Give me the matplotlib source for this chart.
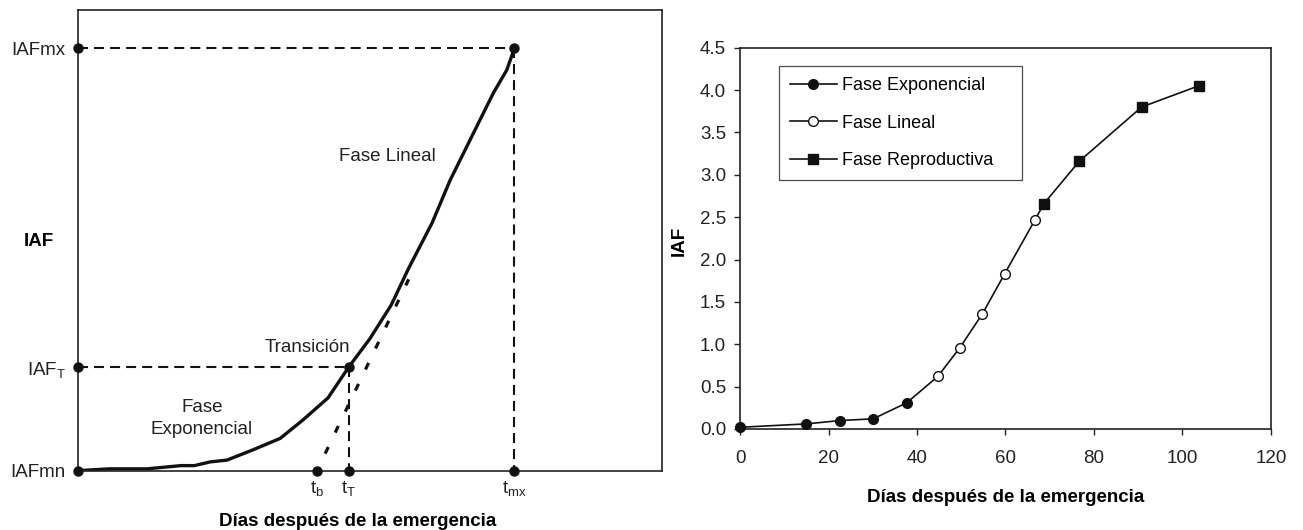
import matplotlib
matplotlib.use("Agg")
import matplotlib.pyplot as plt
from matplotlib.lines import Line2D

plt.rcParams['font.family'] = ['Liberation Sans', 'DejaVu Sans']
plt.rcParams['mathtext.fontset'] = 'custom'
plt.rcParams['mathtext.rm'] = 'Liberation Sans'
plt.rcParams['mathtext.it'] = 'Liberation Sans'

# left panel: schematic curve (arbitrary units)
curve_x = [0, 5.3, 11.8, 17.6, 19.9, 22.6, 25.5, 29.9, 34.6, 38.5, 42.8, 46.3,
           50.0, 53.6, 56.6, 60.6, 63.7, 67.1, 71.1, 73.4, 74.7]
curve_y = [0, 0.4, 0.4, 1.1, 1.1, 1.9, 2.3, 4.5, 7.0, 11.0, 15.8, 22.4,
           28.7, 35.9, 43.9, 53.7, 63.0, 71.7, 81.9, 86.9, 91.6]
tangent_x = [42.3, 56.6]
tangent_y = [3.7, 41.5]
t_b, t_T, t_mx = 40.9, 46.3, 74.7
iaf_mn, iaf_T, iaf_mx = 0.0, 22.4, 91.6

# right panel: measured IAF
exp_dias = [0, 15, 22.7, 30.1, 37.7]
exp_iaf = [0.02, 0.06, 0.10, 0.12, 0.31]
lin_dias = [44.7, 49.7, 54.8, 59.8, 66.7]
lin_iaf = [0.62, 0.96, 1.36, 1.83, 2.47]
rep_dias = [68.7, 76.7, 90.8, 103.7]
rep_iaf = [2.66, 3.16, 3.80, 4.05]

fig = plt.figure(figsize=(13.03, 5.30), dpi=100)

# ---------- left panel ----------
ax1 = fig.add_axes([0.0599, 0.1119, 0.4483, 0.8701])
ax1.set_xlim(0, 100)
ax1.set_ylim(0, 100)
for s in ax1.spines.values():
    s.set_linewidth(1.2)
    s.set_color('#222222')

dash = (4.8, 2.9)
ax1.plot([0, t_mx], [iaf_mx, iaf_mx], color='#111111', lw=1.5, dashes=dash)
ax1.plot([t_mx, t_mx], [iaf_mx, 0], color='#111111', lw=1.5, dashes=dash)
ax1.plot([0, t_T], [iaf_T, iaf_T], color='#111111', lw=1.5, dashes=dash)
ax1.plot([t_T, t_T], [iaf_T, 0], color='#111111', lw=1.5, dashes=dash)
ax1.plot(tangent_x, tangent_y, color='#111111', lw=2.3, dashes=(2.3, 5.0),
         solid_capstyle='butt', dash_capstyle='butt')
ax1.plot(curve_x, curve_y, color='#111111', lw=2.4, solid_joinstyle='round')

ax1.plot([0, 0, 0], [iaf_mn, iaf_T, iaf_mx], 'o', color='#111111', ms=6.5, clip_on=False, zorder=5)
ax1.plot([t_b, t_T, t_mx], [0, 0, 0], 'o', color='#111111', ms=6.5, clip_on=False, zorder=5)
ax1.plot([t_T, t_mx], [iaf_T, iaf_mx], 'o', color='#111111', ms=6.5, zorder=5)

ax1.set_yticks([iaf_mn, iaf_T, iaf_mx])
ax1.set_yticklabels(['IAFmn', r'IAF$_\mathregular{T}$', 'IAFmx'], fontsize=13.5)
ax1.set_xticks([t_b, t_T, t_mx])
ax1.set_xticklabels([r't$_\mathregular{b}$', r't$_\mathregular{T}$', r't$_\mathregular{mx}$'], fontsize=13.5)
ax1.tick_params(axis='y', length=0, pad=9, colors='#222222')
ax1.tick_params(axis='x', length=0, pad=6, colors='#222222')

ax1.text(52.9, 68.2, 'Fase Lineal', fontsize=13.5, ha='center', va='center', color='#222222')
ax1.text(39.2, 26.8, 'Transición', fontsize=13.5, ha='center', va='center', color='#222222')
ax1.text(21.2, 11.4, 'Fase\nExponencial', fontsize=13.5, ha='center', va='center',
         linespacing=1.4, color='#222222')

ax1.set_ylabel('IAF', rotation=0, fontsize=13.5, fontweight='bold', va='center', ha='center')
ax1.yaxis.set_label_coords(-0.067, 0.496)
ax1.set_xlabel('Días después de la emergencia', fontsize=13.5, fontweight='bold', va='center')
ax1.xaxis.set_label_coords(0.478, -0.11)

# ---------- right panel ----------
ax2 = fig.add_axes([0.568, 0.1906, 0.4073, 0.7194])
all_dias = exp_dias + lin_dias + rep_dias
all_iaf = exp_iaf + lin_iaf + rep_iaf
ax2.plot(all_dias, all_iaf, color='#111111', lw=1.2, zorder=2)
ax2.plot(exp_dias, exp_iaf, 'o', color='#111111', ms=7, zorder=3, clip_on=False)
ax2.plot(lin_dias, lin_iaf, 'o', mfc='white', mec='#111111', mew=1.0, ms=7, zorder=3)
ax2.plot(rep_dias, rep_iaf, 's', color='#111111', ms=7, zorder=3)

ax2.set_xlim(0, 120)
ax2.set_ylim(0, 4.5)
ax2.set_xticks(range(0, 121, 20))
ax2.set_yticks([0.0, 0.5, 1.0, 1.5, 2.0, 2.5, 3.0, 3.5, 4.0, 4.5])
ax2.set_yticklabels(['0.0', '0.5', '1.0', '1.5', '2.0', '2.5', '3.0', '3.5', '4.0', '4.5'])
ax2.tick_params(axis='both', direction='out', length=4, width=1.0, labelsize=13.5, colors='#222222')
ax2.tick_params(axis='y', pad=6)
ax2.tick_params(axis='x', pad=11)
for s in ax2.spines.values():
    s.set_linewidth(1.2)
    s.set_color('#222222')

ax2.set_ylabel('IAF', fontsize=13.5, fontweight='bold', va='center')
ax2.yaxis.set_label_coords(-0.115, 0.492)
ax2.set_xlabel('Días después de la emergencia', fontsize=13.5, fontweight='bold', va='center')
ax2.xaxis.set_label_coords(0.501, -0.18)

handles = [
    Line2D([], [], color='#111111', lw=1.2, marker='o', ms=7),
    Line2D([], [], color='#111111', lw=1.2, marker='o', ms=7, mfc='white', mew=1.0),
    Line2D([], [], color='#111111', lw=1.2, marker='s', ms=7),
]
leg = ax2.legend(handles, ['Fase Exponencial', 'Fase Lineal', 'Fase Reproductiva'],
                 loc='upper left', bbox_to_anchor=(0.0735, 0.952, 0.458, 0.0), mode='expand',
                 borderaxespad=0, fontsize=13, frameon=True, fancybox=False, shadow=False,
                 handlelength=2.6, handletextpad=0.3, labelspacing=1.15, borderpad=0.6)
leg.get_frame().set_edgecolor('#222222')
leg.get_frame().set_linewidth(0.9)

fig.savefig('out.png', dpi=100)
